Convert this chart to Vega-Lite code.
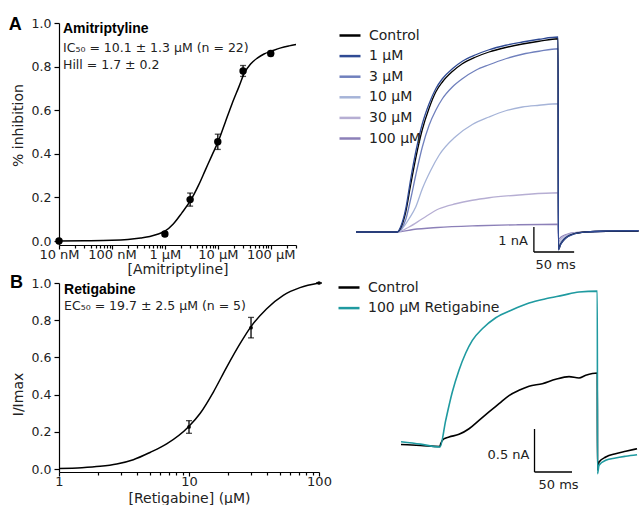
{
  "$schema": "https://vega.github.io/schema/vega-lite/v6.json",
  "padding": {"left": 8, "top": 16, "right": 0, "bottom": 0},
  "background": "white",
  "config": {
    "view": {"stroke": null},
    "font": "DejaVu Sans",
    "axis": {"grid": false, "domainColor": "#000", "tickColor": "#000", "labelColor": "#222", "titleColor": "#222", "labelFontSize": 13, "titleFontSize": 14, "titleFontWeight": "normal", "domainWidth": 1.2, "tickWidth": 1.2, "labelFlush": false, "labelOverlap": false},
    "text": {"color": "#222"},
    "legend": {"orient": "none", "title": null, "symbolType": "stroke", "symbolSize": 441, "symbolStrokeWidth": 2.5, "labelFontSize": 14, "labelOffset": 7, "rowPadding": 1.6, "labelColor": "#222", "padding": 0}
  },
  "datasets": {
    "curveA": [
      {"conc": 0.01, "y": 0}, {"conc": 0.03, "y": 0.001}, {"conc": 0.1, "y": 0.003}, {"conc": 0.2, "y": 0.007},
      {"conc": 0.35, "y": 0.014}, {"conc": 0.52, "y": 0.021}, {"conc": 0.7, "y": 0.03}, {"conc": 1, "y": 0.045},
      {"conc": 1.44, "y": 0.078}, {"conc": 2.08, "y": 0.128}, {"conc": 3.08, "y": 0.187}, {"conc": 4.31, "y": 0.255},
      {"conc": 5.78, "y": 0.324}, {"conc": 7.75, "y": 0.393}, {"conc": 10.4, "y": 0.462}, {"conc": 13.9, "y": 0.546},
      {"conc": 18.6, "y": 0.63}, {"conc": 24.9, "y": 0.706}, {"conc": 32, "y": 0.772}, {"conc": 41.6, "y": 0.812},
      {"conc": 55.7, "y": 0.839}, {"conc": 74.6, "y": 0.858}, {"conc": 103, "y": 0.871}, {"conc": 155, "y": 0.886},
      {"conc": 223, "y": 0.895}, {"conc": 300, "y": 0.901}
    ],
    "pointsA": [
      {"conc": 0.01, "y": 0.0, "lo": 0.0, "hi": 0.0},
      {"conc": 1, "y": 0.032, "lo": 0.022, "hi": 0.042},
      {"conc": 3, "y": 0.19, "lo": 0.16, "hi": 0.22},
      {"conc": 10, "y": 0.455, "lo": 0.42, "hi": 0.49},
      {"conc": 30, "y": 0.78, "lo": 0.755, "hi": 0.805},
      {"conc": 100, "y": 0.86, "lo": 0.85, "hi": 0.87}
    ],
    "curveB": [
      {"conc": 1, "y": 0.003}, {"conc": 1.5, "y": 0.007}, {"conc": 2.07, "y": 0.0145}, {"conc": 2.78, "y": 0.027},
      {"conc": 3.73, "y": 0.05}, {"conc": 5.01, "y": 0.089}, {"conc": 6.73, "y": 0.135}, {"conc": 9.88, "y": 0.226},
      {"conc": 12.2, "y": 0.3}, {"conc": 15.4, "y": 0.414}, {"conc": 19.5, "y": 0.548}, {"conc": 24.7, "y": 0.674},
      {"conc": 29.8, "y": 0.763}, {"conc": 39.6, "y": 0.862}, {"conc": 53.1, "y": 0.934}, {"conc": 71.4, "y": 0.975},
      {"conc": 100, "y": 1.0}
    ],
    "pointsB": [
      {"conc": 10, "y": 0.226, "lo": 0.192, "hi": 0.26},
      {"conc": 30, "y": 0.76, "lo": 0.705, "hi": 0.815},
      {"conc": 100, "y": 1.0, "lo": 1.0, "hi": 1.0}
    ],
    "tracesA": [
      {"cond": "100 μM", "t": -51, "i": 0}, {"cond": "100 μM", "t": 0, "i": 0}, {"cond": "100 μM", "t": 20, "i": 0.1},
      {"cond": "100 μM", "t": 50, "i": 0.18}, {"cond": "100 μM", "t": 100, "i": 0.25}, {"cond": "100 μM", "t": 150, "i": 0.29},
      {"cond": "100 μM", "t": 200, "i": 0.31}, {"cond": "100 μM", "t": 200.5, "i": -0.3}, {"cond": "100 μM", "t": 203, "i": -0.22},
      {"cond": "100 μM", "t": 207, "i": -0.14}, {"cond": "100 μM", "t": 212, "i": -0.08}, {"cond": "100 μM", "t": 220, "i": -0.03},
      {"cond": "100 μM", "t": 235, "i": 0.0}, {"cond": "100 μM", "t": 260, "i": 0.03}, {"cond": "100 μM", "t": 300, "i": 0.04},

      {"cond": "30 μM", "t": -51, "i": 0}, {"cond": "30 μM", "t": 0, "i": 0}, {"cond": "30 μM", "t": 14.9, "i": 0.2},
      {"cond": "30 μM", "t": 31.4, "i": 0.53}, {"cond": "30 μM", "t": 52.2, "i": 0.93}, {"cond": "30 μM", "t": 72.9, "i": 1.13},
      {"cond": "30 μM", "t": 93.5, "i": 1.27}, {"cond": "30 μM", "t": 114.3, "i": 1.37}, {"cond": "30 μM", "t": 155.7, "i": 1.49},
      {"cond": "30 μM", "t": 200, "i": 1.57}, {"cond": "30 μM", "t": 200.5, "i": -0.4}, {"cond": "30 μM", "t": 203, "i": -0.29},
      {"cond": "30 μM", "t": 207, "i": -0.18}, {"cond": "30 μM", "t": 212, "i": -0.1}, {"cond": "30 μM", "t": 220, "i": -0.04},
      {"cond": "30 μM", "t": 235, "i": 0.0}, {"cond": "30 μM", "t": 260, "i": 0.03}, {"cond": "30 μM", "t": 300, "i": 0.04},

      {"cond": "10 μM", "t": -51, "i": 0}, {"cond": "10 μM", "t": 0, "i": 0}, {"cond": "10 μM", "t": 6, "i": 0.12},
      {"cond": "10 μM", "t": 14.9, "i": 0.53}, {"cond": "10 μM", "t": 23.2, "i": 1.0}, {"cond": "10 μM", "t": 31.4, "i": 1.73},
      {"cond": "10 μM", "t": 41.9, "i": 2.47}, {"cond": "10 μM", "t": 52.2, "i": 3.07}, {"cond": "10 μM", "t": 72.9, "i": 3.82},
      {"cond": "10 μM", "t": 93.5, "i": 4.3}, {"cond": "10 μM", "t": 114.3, "i": 4.6}, {"cond": "10 μM", "t": 135, "i": 4.85},
      {"cond": "10 μM", "t": 155.7, "i": 5.0}, {"cond": "10 μM", "t": 176.4, "i": 5.07}, {"cond": "10 μM", "t": 200, "i": 5.13},
      {"cond": "10 μM", "t": 200.5, "i": -0.55}, {"cond": "10 μM", "t": 203, "i": -0.4}, {"cond": "10 μM", "t": 207, "i": -0.25},
      {"cond": "10 μM", "t": 212, "i": -0.14}, {"cond": "10 μM", "t": 220, "i": -0.055}, {"cond": "10 μM", "t": 235, "i": 0.0},
      {"cond": "10 μM", "t": 260, "i": 0.03}, {"cond": "10 μM", "t": 300, "i": 0.04},

      {"cond": "3 μM", "t": -51, "i": 0}, {"cond": "3 μM", "t": 0, "i": 0}, {"cond": "3 μM", "t": 5, "i": 0.12},
      {"cond": "3 μM", "t": 10.8, "i": 0.5}, {"cond": "3 μM", "t": 17, "i": 1.33}, {"cond": "3 μM", "t": 23.2, "i": 2.27},
      {"cond": "3 μM", "t": 31.4, "i": 3.4}, {"cond": "3 μM", "t": 39.8, "i": 4.27}, {"cond": "3 μM", "t": 48.1, "i": 4.87},
      {"cond": "3 μM", "t": 56.3, "i": 5.33}, {"cond": "3 μM", "t": 68.7, "i": 5.8}, {"cond": "3 μM", "t": 81.1, "i": 6.13},
      {"cond": "3 μM", "t": 97.8, "i": 6.47}, {"cond": "3 μM", "t": 114.3, "i": 6.69}, {"cond": "3 μM", "t": 135, "i": 6.93},
      {"cond": "3 μM", "t": 155.7, "i": 7.11}, {"cond": "3 μM", "t": 176.4, "i": 7.23}, {"cond": "3 μM", "t": 200, "i": 7.33},
      {"cond": "3 μM", "t": 200.5, "i": -0.65}, {"cond": "3 μM", "t": 203, "i": -0.47}, {"cond": "3 μM", "t": 207, "i": -0.29},
      {"cond": "3 μM", "t": 212, "i": -0.16}, {"cond": "3 μM", "t": 220, "i": -0.065}, {"cond": "3 μM", "t": 235, "i": 0.0},
      {"cond": "3 μM", "t": 260, "i": 0.03}, {"cond": "3 μM", "t": 300, "i": 0.04},

      {"cond": "Control", "t": -51, "i": 0}, {"cond": "Control", "t": 0, "i": 0}, {"cond": "Control", "t": 5, "i": 0.2},
      {"cond": "Control", "t": 10.8, "i": 0.8}, {"cond": "Control", "t": 17, "i": 1.9}, {"cond": "Control", "t": 23.2, "i": 2.95},
      {"cond": "Control", "t": 31.4, "i": 4.1}, {"cond": "Control", "t": 39.8, "i": 4.95}, {"cond": "Control", "t": 48.1, "i": 5.6},
      {"cond": "Control", "t": 56.3, "i": 6.0}, {"cond": "Control", "t": 68.7, "i": 6.42}, {"cond": "Control", "t": 81.1, "i": 6.73},
      {"cond": "Control", "t": 97.8, "i": 7.0}, {"cond": "Control", "t": 114.3, "i": 7.2}, {"cond": "Control", "t": 135, "i": 7.38},
      {"cond": "Control", "t": 155.7, "i": 7.52}, {"cond": "Control", "t": 176.4, "i": 7.63}, {"cond": "Control", "t": 200, "i": 7.73},
      {"cond": "Control", "t": 200.5, "i": -0.7}, {"cond": "Control", "t": 203, "i": -0.5}, {"cond": "Control", "t": 207, "i": -0.32},
      {"cond": "Control", "t": 212, "i": -0.18}, {"cond": "Control", "t": 220, "i": -0.07}, {"cond": "Control", "t": 235, "i": 0.0},
      {"cond": "Control", "t": 260, "i": 0.03}, {"cond": "Control", "t": 300, "i": 0.04},

      {"cond": "1 μM", "t": -51, "i": 0}, {"cond": "1 μM", "t": 0, "i": 0}, {"cond": "1 μM", "t": 5, "i": 0.25},
      {"cond": "1 μM", "t": 10.8, "i": 0.93}, {"cond": "1 μM", "t": 17, "i": 2.13}, {"cond": "1 μM", "t": 23.2, "i": 3.2},
      {"cond": "1 μM", "t": 31.4, "i": 4.33}, {"cond": "1 μM", "t": 39.8, "i": 5.13}, {"cond": "1 μM", "t": 48.1, "i": 5.73},
      {"cond": "1 μM", "t": 56.3, "i": 6.13}, {"cond": "1 μM", "t": 68.7, "i": 6.53}, {"cond": "1 μM", "t": 81.1, "i": 6.83},
      {"cond": "1 μM", "t": 97.8, "i": 7.09}, {"cond": "1 μM", "t": 114.3, "i": 7.29}, {"cond": "1 μM", "t": 135, "i": 7.47},
      {"cond": "1 μM", "t": 155.7, "i": 7.6}, {"cond": "1 μM", "t": 176.4, "i": 7.71}, {"cond": "1 μM", "t": 200, "i": 7.8},
      {"cond": "1 μM", "t": 200.5, "i": -0.72}, {"cond": "1 μM", "t": 203, "i": -0.52}, {"cond": "1 μM", "t": 207, "i": -0.33},
      {"cond": "1 μM", "t": 212, "i": -0.19}, {"cond": "1 μM", "t": 220, "i": -0.08}, {"cond": "1 μM", "t": 235, "i": 0.0},
      {"cond": "1 μM", "t": 260, "i": 0.04}, {"cond": "1 μM", "t": 300, "i": 0.05}
    ],
    "tracesB": [
      {"cond": "Control", "t": -52, "i": 0.006}, {"cond": "Control", "t": -26, "i": -0.005}, {"cond": "Control", "t": 0, "i": -0.017},
      {"cond": "Control", "t": 0.9, "i": 0.015}, {"cond": "Control", "t": 5, "i": 0.07}, {"cond": "Control", "t": 12, "i": 0.093},
      {"cond": "Control", "t": 25.3, "i": 0.124}, {"cond": "Control", "t": 38.7, "i": 0.189}, {"cond": "Control", "t": 52, "i": 0.287},
      {"cond": "Control", "t": 65.3, "i": 0.384}, {"cond": "Control", "t": 78.7, "i": 0.48}, {"cond": "Control", "t": 92, "i": 0.575},
      {"cond": "Control", "t": 105.3, "i": 0.636}, {"cond": "Control", "t": 118.7, "i": 0.683}, {"cond": "Control", "t": 136.4, "i": 0.713},
      {"cond": "Control", "t": 154.3, "i": 0.765}, {"cond": "Control", "t": 172, "i": 0.795}, {"cond": "Control", "t": 185.3, "i": 0.78},
      {"cond": "Control", "t": 194.3, "i": 0.81}, {"cond": "Control", "t": 209.7, "i": 0.837}, {"cond": "Control", "t": 210, "i": -0.29},
      {"cond": "Control", "t": 212, "i": -0.198}, {"cond": "Control", "t": 221, "i": -0.14}, {"cond": "Control", "t": 234, "i": -0.101},
      {"cond": "Control", "t": 247.6, "i": -0.073}, {"cond": "Control", "t": 262.7, "i": -0.043},

      {"cond": "100 μM Retigabine", "t": -52, "i": 0.038}, {"cond": "100 μM Retigabine", "t": -26, "i": 0.01}, {"cond": "100 μM Retigabine", "t": 0, "i": -0.023},
      {"cond": "100 μM Retigabine", "t": 7.6, "i": 0.287}, {"cond": "100 μM Retigabine", "t": 16.4, "i": 0.616}, {"cond": "100 μM Retigabine", "t": 25.3, "i": 0.87},
      {"cond": "100 μM Retigabine", "t": 34.3, "i": 1.07}, {"cond": "100 μM Retigabine", "t": 43.1, "i": 1.217}, {"cond": "100 μM Retigabine", "t": 56.4, "i": 1.352},
      {"cond": "100 μM Retigabine", "t": 74.3, "i": 1.48}, {"cond": "100 μM Retigabine", "t": 96.4, "i": 1.573}, {"cond": "100 μM Retigabine", "t": 118.7, "i": 1.651},
      {"cond": "100 μM Retigabine", "t": 140.9, "i": 1.701}, {"cond": "100 μM Retigabine", "t": 163.1, "i": 1.74}, {"cond": "100 μM Retigabine", "t": 185.3, "i": 1.779},
      {"cond": "100 μM Retigabine", "t": 209.7, "i": 1.79}, {"cond": "100 μM Retigabine", "t": 210, "i": -0.334}, {"cond": "100 μM Retigabine", "t": 212, "i": -0.236},
      {"cond": "100 μM Retigabine", "t": 221, "i": -0.178}, {"cond": "100 μM Retigabine", "t": 234, "i": -0.151}, {"cond": "100 μM Retigabine", "t": 247.6, "i": -0.131},
      {"cond": "100 μM Retigabine", "t": 262.7, "i": -0.113}
    ],
    "barsA": [
      {"t": 170, "t2": 170, "i": -0.8, "i2": 0.2},
      {"t": 170, "t2": 220, "i": -0.8, "i2": -0.8}
    ],
    "barsB": [
      {"t": 126, "t2": 126, "i": -0.314, "i2": 0.186},
      {"t": 126, "t2": 176, "i": -0.314, "i2": -0.314}
    ]
  },
  "columns": 2,
  "align": "none",
  "bounds": "flush",
  "spacing": {"row": 38, "column": 37},
  "resolve": {"scale": {"color": "independent"}, "legend": {"color": "independent"}},
  "concat": [
    {
      "width": 237, "height": 222,
      "resolve": {"axis": {"x": "independent"}},
      "layer": [
        {
          "data": {"name": "curveA"},
          "mark": {"type": "line", "color": "black", "strokeWidth": 1.5, "interpolate": "monotone"},
          "encoding": {
            "x": {"field": "conc", "type": "quantitative", "scale": {"type": "log", "domain": [0.01, 300], "nice": false},
                  "axis": {"orient": "bottom", "values": [0.01, 0.1, 1, 10, 100], "tickSize": 4, "labelPadding": -1, "titlePadding": 1, "title": "[Amitriptyline]",
                           "labelExpr": "datum.value < 0.05 ? '10 nM' : datum.value < 0.5 ? '100 nM' : datum.value < 5 ? '1 μM' : datum.value < 50 ? '10 μM' : '100 μM'"}},
            "y": {"field": "y", "type": "quantitative", "title": "% inhibition", "scale": {"domain": [-0.0183, 1], "nice": false, "zero": false},
                  "axis": {"values": [0, 0.2, 0.4, 0.6, 0.8, 1], "format": ".1f", "tickSize": 5, "labelPadding": 3, "labelFontSize": 12.5, "titlePadding": 6, "titleY": 102, "labelOverlap": false}}
          }
        },
        {
          "data": {"name": "pointsA"},
          "mark": {"type": "errorbar", "color": "black", "thickness": 1.3, "ticks": {"size": 6, "thickness": 1.3, "color": "black"}},
          "encoding": {
            "x": {"field": "conc", "type": "quantitative", "axis": null},
            "y": {"field": "lo", "type": "quantitative", "title": "% inhibition"},
            "y2": {"field": "hi"}
          }
        },
        {
          "data": {"name": "pointsA"},
          "mark": {"type": "point", "filled": true, "color": "black", "size": 55, "opacity": 1},
          "encoding": {
            "x": {"field": "conc", "type": "quantitative",
                  "axis": {"orient": "bottom", "values": [0.02, 0.03, 0.04, 0.05, 0.06, 0.07, 0.08, 0.09, 0.2, 0.3, 0.4, 0.5, 0.6, 0.7, 0.8, 0.9, 2, 3, 4, 5, 6, 7, 8, 9, 20, 30, 40, 50, 60, 70, 80, 90, 200, 300],
                           "labels": false, "domain": false, "tickSize": 3, "title": null}},
            "y": {"field": "y", "type": "quantitative", "title": "% inhibition"}
          }
        },
        {
          "data": {"values": [{}]},
          "mark": {"type": "text", "text": "A", "font": "Liberation Sans", "fontSize": 18, "fontWeight": "bold", "align": "left", "baseline": "middle", "color": "#000"},
          "encoding": {"x": {"datum": 0.00112, "type": "quantitative", "axis": null}, "y": {"datum": 0.99, "type": "quantitative", "title": "% inhibition"}}
        },
        {
          "data": {"values": [{}]},
          "mark": {"type": "text", "text": "Amitriptyline", "font": "Liberation Sans", "fontSize": 14, "fontWeight": "bold", "align": "left", "baseline": "middle", "color": "#000"},
          "encoding": {"x": {"datum": 0.0119, "type": "quantitative", "axis": null}, "y": {"datum": 0.974, "type": "quantitative", "title": "% inhibition"}}
        },
        {
          "data": {"values": [{}]},
          "mark": {"type": "text", "text": "IC₅₀ = 10.1 ± 1.3 μM (n = 22)", "fontSize": 12.5, "align": "left", "baseline": "middle"},
          "encoding": {"x": {"datum": 0.0119, "type": "quantitative", "axis": null}, "y": {"datum": 0.887, "type": "quantitative", "title": "% inhibition"}}
        },
        {
          "data": {"values": [{}]},
          "mark": {"type": "text", "text": "Hill = 1.7 ± 0.2", "fontSize": 12.5, "align": "left", "baseline": "middle"},
          "encoding": {"x": {"datum": 0.0119, "type": "quantitative", "axis": null}, "y": {"datum": 0.809, "type": "quantitative", "title": "% inhibition"}}
        }
      ]
    },
    {
      "width": 283.5, "height": 222,
      "layer": [
        {
          "data": {"name": "tracesA"},
          "mark": {"type": "line", "strokeWidth": 1.3, "clip": false, "interpolate": "monotone"},
          "encoding": {
            "x": {"field": "t", "type": "quantitative", "scale": {"domain": [-51, 301.2], "nice": false, "zero": false}, "axis": null},
            "y": {"field": "i", "type": "quantitative", "scale": {"domain": [-0.52, 8.36], "nice": false, "zero": false}, "axis": null},
            "color": {"field": "cond", "type": "nominal",
                      "scale": {"domain": ["Control", "1 μM", "3 μM", "10 μM", "30 μM", "100 μM"], "range": ["#000000", "#2f4a94", "#7080bd", "#a6b4d8", "#b6aed3", "#8c80b8"]},
                      "legend": {"legendX": -18, "legendY": 0.5}}
          }
        },
        {
          "data": {"name": "barsA"},
          "mark": {"type": "rule", "color": "black", "strokeWidth": 1.3, "clip": false},
          "encoding": {
            "x": {"field": "t", "type": "quantitative"}, "x2": {"field": "t2"},
            "y": {"field": "i", "type": "quantitative"}, "y2": {"field": "i2"}
          }
        },
        {
          "data": {"values": [{}]},
          "mark": {"type": "text", "text": "1 nA", "fontSize": 13, "align": "right", "baseline": "middle", "dx": -6},
          "encoding": {"x": {"datum": 170, "type": "quantitative"}, "y": {"datum": -0.36, "type": "quantitative"}}
        },
        {
          "data": {"values": [{}]},
          "mark": {"type": "text", "text": "50 ms", "fontSize": 13, "align": "center", "baseline": "middle"},
          "encoding": {"x": {"datum": 197, "type": "quantitative"}, "y": {"datum": -1.3, "type": "quantitative"}}
        }
      ]
    },
    {
      "width": 260, "height": 189,
      "resolve": {"axis": {"x": "independent"}},
      "layer": [
        {
          "data": {"name": "curveB"},
          "mark": {"type": "line", "color": "black", "strokeWidth": 1.5, "interpolate": "monotone"},
          "encoding": {
            "x": {"field": "conc", "type": "quantitative", "scale": {"type": "log", "domain": [1, 100], "nice": false},
                  "axis": {"orient": "bottom", "values": [1, 10, 100], "format": "~g", "tickSize": 4, "labelPadding": -1, "titlePadding": 3, "title": "[Retigabine] (μM)"}},
            "y": {"field": "y", "type": "quantitative", "title": "I/Imax", "scale": {"domain": [-0.016, 1], "nice": false, "zero": false},
                  "axis": {"values": [0, 0.2, 0.4, 0.6, 0.8, 1], "format": ".1f", "tickSize": 5, "labelPadding": 3, "labelFontSize": 12.5, "titlePadding": 6, "titleY": 111, "labelOverlap": false, "tickCount": 6}}
          }
        },
        {
          "data": {"name": "pointsB"},
          "mark": {"type": "errorbar", "color": "black", "thickness": 1.3, "ticks": {"size": 6, "thickness": 1.3, "color": "black"}},
          "encoding": {
            "x": {"field": "conc", "type": "quantitative", "axis": null},
            "y": {"field": "lo", "type": "quantitative", "title": "I/Imax"},
            "y2": {"field": "hi"}
          }
        },
        {
          "data": {"name": "pointsB"},
          "mark": {"type": "point", "filled": true, "color": "black", "size": 14, "opacity": 1},
          "encoding": {
            "x": {"field": "conc", "type": "quantitative",
                  "axis": {"orient": "bottom", "values": [2, 3, 4, 5, 6, 7, 8, 9, 20, 30, 40, 50, 60, 70, 80, 90], "labels": false, "domain": false, "tickSize": 3, "title": null}},
            "y": {"field": "y", "type": "quantitative", "title": "I/Imax"}
          }
        },
        {
          "data": {"values": [{}]},
          "mark": {"type": "text", "text": "B", "font": "Liberation Sans", "fontSize": 18, "fontWeight": "bold", "align": "left", "baseline": "middle", "color": "#000"},
          "encoding": {"x": {"datum": 0.42, "type": "quantitative", "axis": null}, "y": {"datum": 1.0, "type": "quantitative", "title": "I/Imax"}}
        },
        {
          "data": {"values": [{}]},
          "mark": {"type": "text", "text": "Retigabine", "font": "Liberation Sans", "fontSize": 14, "fontWeight": "bold", "align": "left", "baseline": "middle", "color": "#000"},
          "encoding": {"x": {"datum": 1.093, "type": "quantitative", "axis": null}, "y": {"datum": 0.964, "type": "quantitative", "title": "I/Imax"}}
        },
        {
          "data": {"values": [{}]},
          "mark": {"type": "text", "text": "EC₅₀ = 19.7 ± 2.5 μM (n = 5)", "fontSize": 12.5, "align": "left", "baseline": "middle"},
          "encoding": {"x": {"datum": 1.093, "type": "quantitative", "axis": null}, "y": {"datum": 0.875, "type": "quantitative", "title": "I/Imax"}}
        }
      ]
    },
    {
      "width": 283, "height": 189,
      "layer": [
        {
          "data": {"name": "tracesB"},
          "mark": {"type": "line", "strokeWidth": 1.6, "clip": false, "interpolate": "monotone"},
          "encoding": {
            "x": {"field": "t", "type": "quantitative", "scale": {"domain": [-112, 265.3], "nice": false, "zero": false}, "axis": null},
            "y": {"field": "i", "type": "quantitative", "scale": {"domain": [-0.314, 1.884], "nice": false, "zero": false}, "axis": null},
            "color": {"field": "cond", "type": "nominal",
                      "scale": {"domain": ["Control", "100 μM Retigabine"], "range": ["#000000", "#1f9aa0"]},
                      "legend": {"legendX": -19, "legendY": -7.5}}
          }
        },
        {
          "data": {"name": "barsB"},
          "mark": {"type": "rule", "color": "black", "strokeWidth": 1.3, "clip": false},
          "encoding": {
            "x": {"field": "t", "type": "quantitative"}, "x2": {"field": "t2"},
            "y": {"field": "i", "type": "quantitative"}, "y2": {"field": "i2"}
          }
        },
        {
          "data": {"values": [{}]},
          "mark": {"type": "text", "text": "0.5 nA", "fontSize": 13, "align": "right", "baseline": "middle", "dx": -5},
          "encoding": {"x": {"datum": 126, "type": "quantitative"}, "y": {"datum": -0.116, "type": "quantitative"}}
        },
        {
          "data": {"values": [{}]},
          "mark": {"type": "text", "text": "50 ms", "fontSize": 13, "align": "center", "baseline": "middle"},
          "encoding": {"x": {"datum": 158, "type": "quantitative"}, "y": {"datum": -0.465, "type": "quantitative"}}
        }
      ]
    }
  ]
}
